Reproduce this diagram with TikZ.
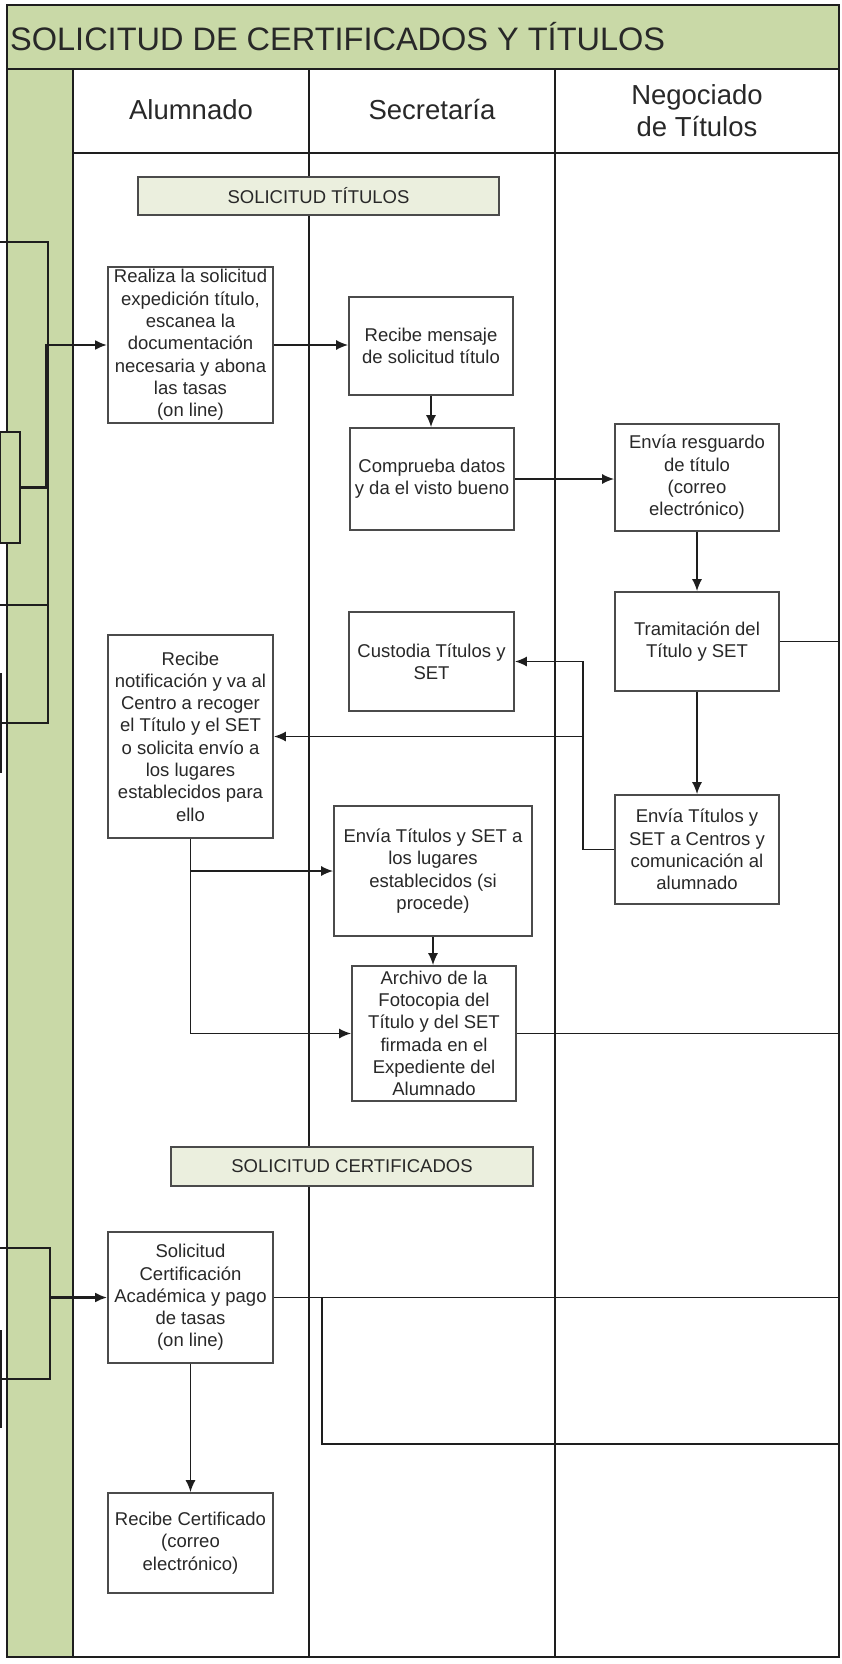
\documentclass[tikz,border=0pt]{standalone}
\usepackage{fontspec}
\setmainfont{Liberation Sans}
\usetikzlibrary{arrows.meta}
\definecolor{lanegreen}{RGB}{201,217,167}
\definecolor{barfill}{RGB}{235,239,222}
\definecolor{inkline}{RGB}{30,30,30}
\definecolor{inktext}{RGB}{40,40,40}
\begin{document}
\begin{tikzpicture}[x=1pt, y=-1pt, >={Latex[length=12pt,width=10pt]},
  lane/.style={draw=inkline, line width=2.2pt},
  task/.style={draw=inkline!80, line width=1.7pt, fill=white, align=center, inner sep=0pt,
    text=inktext, font=\fontsize{18.5}{22.3}\selectfont},
  bar/.style={task, fill=barfill},
  head/.style={align=center, text=inktext, font=\fontsize{27.5}{32}\selectfont},
  flow/.style={draw=inkline, line width=1.6pt},
  bold flow/.style={draw=inkline, line width=2.7pt}]
\useasboundingbox (0,0) rectangle (842,1664);

% marco y calles
\fill[lanegreen] (7,5) rectangle (839,69);
\fill[lanegreen] (7,69) rectangle (73,1657);
\draw[lane] (7,5) rectangle (839,1657);
\draw[lane] (7,69) -- (839,69);
\draw[lane] (73,69) -- (73,1657);
\draw[lane] (73,153) -- (839,153);
\draw[lane] (309,69) -- (309,1657);
\draw[lane] (555,69) -- (555,1657);
\coordinate (borde) at (839,0);

\node[anchor=west, inner sep=0pt, text=inktext, font=\fontsize{32.5}{38}\selectfont] (titulo) at (10,37) {SOLICITUD DE CERTIFICADOS Y TÍTULOS};
\node[head] (alumnado) at (191,110) {Alumnado};
\node[head] (secretaria) at (432,110) {Secretaría};
\node[head] (negociado) at (697,111) {Negociado\\de Títulos};

% solicitud de titulos
\node[bar, minimum width=361pt, minimum height=38pt] (sectit) at (318.5,196) {SOLICITUD TÍTULOS};
\node[task, minimum width=165pt, minimum height=156pt] (realiza) at (190.5,345) {Realiza la solicitud\\expedición título,\\escanea la\\documentación\\necesaria y abona\\las tasas\\(on line)};
\node[task, minimum width=164pt, minimum height=98pt] (recmsg) at (431,346) {Recibe mensaje\\de solicitud título};
\node[task, minimum width=164pt, minimum height=102pt] (comprueba) at (432,479) {Comprueba datos\\y da el visto bueno};
\node[task, minimum width=164pt, minimum height=107pt] (resguardo) at (697,477.5) {Envía resguardo\\de título\\(correo\\electrónico)};
\node[task, minimum width=164pt, minimum height=99pt] (tramita) at (697,641.5) {Tramitación del\\Título y SET};
\node[task, minimum width=165pt, minimum height=99pt] (custodia) at (431.5,661.5) {Custodia Títulos y\\SET};
\node[task, minimum width=165pt, minimum height=203pt] (recnotif) at (190.5,736.5) {Recibe\\notificación y va al\\Centro a recoger\\el Título y el SET\\o solicita envío a\\los lugares\\establecidos para\\ello};
\node[task, minimum width=164pt, minimum height=109pt] (centros) at (697,849.5) {Envía Títulos y\\SET a Centros y\\comunicación al\\alumnado};
\node[task, minimum width=198pt, minimum height=130pt] (lugares) at (433,871) {Envía Títulos y SET a\\los lugares\\establecidos (si\\procede)};
\node[task, minimum width=164pt, minimum height=135pt] (archivo) at (434,1033.5) {Archivo de la\\Fotocopia del\\Título y del SET\\firmada en el\\Expediente del\\Alumnado};

% solicitud de certificados
\node[bar, minimum width=362pt, minimum height=39pt] (seccert) at (352,1166.5) {SOLICITUD CERTIFICADOS};
\node[task, minimum width=165pt, minimum height=131pt] (solcert) at (190.5,1297.5) {Solicitud\\Certificación\\Académica y pago\\de tasas\\(on line)};
\node[task, minimum width=165pt, minimum height=100pt] (reccert) at (190.5,1543) {Recibe Certificado\\(correo\\electrónico)};

% lo que llega de fuera por la izquierda
\draw[flow] (0,242) -- (48,242) -- (48,723) -- (0,723);
\draw[flow] (0,605) -- (48,605);
\draw[flow] (1,673) -- (1,773);
\node[draw=inkline, line width=1.6pt, fill=lanegreen, minimum width=20pt, minimum height=111pt, inner sep=0pt] (origen) at (10,487.5) {};
\draw[bold flow, ->] (origen.east) -- ++(26,0) |- (realiza.west);
\draw[flow] (0,1248) -- (50,1248) -- (50,1379) -- (0,1379);
\draw[flow] (1,1330) -- (1,1428);
\coordinate (entrada) at (50,1297.5);
\draw[bold flow, ->] (entrada) -- (solcert.west);

% flechas
\draw[flow, ->] (realiza.east) -- (realiza.east -| recmsg.west);
\draw[flow, ->] (recmsg.south) -- (recmsg.south |- comprueba.north);
\draw[flow, ->] (comprueba.east) -- (comprueba.east -| resguardo.west);
\draw[flow, ->] (resguardo.south) -- (tramita.north);
\draw[flow] (tramita.east) -- (tramita.east -| borde);
\draw[flow, ->] (tramita.south) -- (centros.north);
\draw[flow, ->] (centros.west) -- ++(-31,0) |- (custodia.east);
\coordinate (cruce) at (584,736.5);
\draw[flow, ->] (cruce) -- (recnotif.east);
\draw[flow, ->] (recnotif.south) |- (lugares.west);
\draw[flow, ->] (recnotif.south) |- (archivo.west);
\draw[flow, ->] (lugares.south) -- (lugares.south |- archivo.north);
\draw[flow] (archivo.east) -- (archivo.east -| borde);
\draw[flow] (solcert.east) -- (solcert.east -| borde);
\coordinate (desvio) at (322,1297.5);
\coordinate (salida) at (839,1444);
\draw[flow] (desvio) |- (salida);
\draw[flow, ->] (solcert.south) -- (reccert.north);
\end{tikzpicture}
\end{document}
